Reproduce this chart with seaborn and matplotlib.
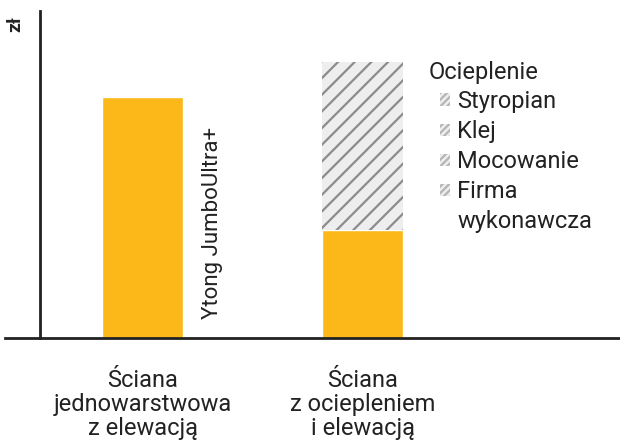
import numpy as np
import pandas as pd
import matplotlib
matplotlib.use("Agg")
import matplotlib.pyplot as plt
import seaborn as sns
from matplotlib.patches import Patch

# data (heights, arbitrary zł units)
categories = ["Ściana\njednowarstwowa\nz elewacją", "Ściana\nz ociepleniem\ni elewacją"]
wall_values = [241, 108]          # orange part - Ytong / wall
insulation_values = [0, 168]      # hatched part - ocieplenie
legend_items = ["Styropian", "Klej", "Mocowanie", "Firma", "wykonawcza"]

orange = "#FBB818"
hatch_gray = "#8c8c8c"
dark = "#222222"

sns.set_style("white")
plt.rcParams["font.family"] = ["Roboto", "DejaVu Sans"]
plt.rcParams["hatch.linewidth"] = 1.6
plt.rcParams["hatch.color"] = hatch_gray

fig = plt.figure(figsize=(6.2, 4.43), dpi=100)
ax = fig.add_axes([5 / 620, 105 / 443, 615 / 620, 327 / 443])

df = pd.DataFrame({"kategoria": categories, "wartosc": wall_values})
sns.barplot(data=df, x="kategoria", y="wartosc", color=orange, width=0.368,
            saturation=1, ax=ax)

# hatched insulation segment on top
x = np.arange(len(categories))
ins = np.array(insulation_values)
ax.bar(x[ins > 0], ins[ins > 0], bottom=np.array(wall_values)[ins > 0], width=0.368,
       color="#eeeeee", edgecolor=hatch_gray, linewidth=0, hatch="//")

ax.set_xlim(-0.625, 2.17)
ax.set_ylim(0, 327)
ax.set_xlabel("")
ax.set_ylabel("")
ax.set_yticks([])
ax.tick_params(axis="x", length=0, pad=22, labelsize=17, labelcolor=dark)
for lab in ax.get_xticklabels():
    lab.set_linespacing(1.08)

for s in ["top", "right"]:
    ax.spines[s].set_visible(False)
ax.spines["left"].set_position(("axes", 35 / 615))
ax.spines["left"].set_color(dark)
ax.spines["left"].set_linewidth(2)
ax.spines["bottom"].set_color(dark)
ax.spines["bottom"].set_linewidth(2)

# annotations
ax.text(0.316, 115, "Ytong JumboUltra+", rotation=90, ha="center", va="center",
        fontsize=16, color=dark)
fig.text(15 / 620, 1 - 24 / 443, "zł", rotation=90, ha="center", va="center",
         fontsize=14, color=dark, fontweight="bold")

fig.text(429 / 620, 1 - 73 / 443, "Ocieplenie", ha="left", va="center",
         fontsize=17, color=dark)
handles = [Patch(facecolor="#eeeeee", edgecolor="#b5b5b5", linewidth=0, hatch="/////")
           for _ in legend_items]
handles[-1].set_visible(False)
leg = ax.legend(handles, legend_items, loc="upper left",
                bbox_to_anchor=(440 / 620, 1 - 90 / 443), bbox_transform=fig.transFigure,
                frameon=False, fontsize=17, handlelength=0.42, handleheight=0.42,
                handletextpad=0.3, labelspacing=0.3, borderpad=0, borderaxespad=0)
for t in leg.get_texts():
    t.set_color(dark)

fig.savefig("out.png", dpi=100)
